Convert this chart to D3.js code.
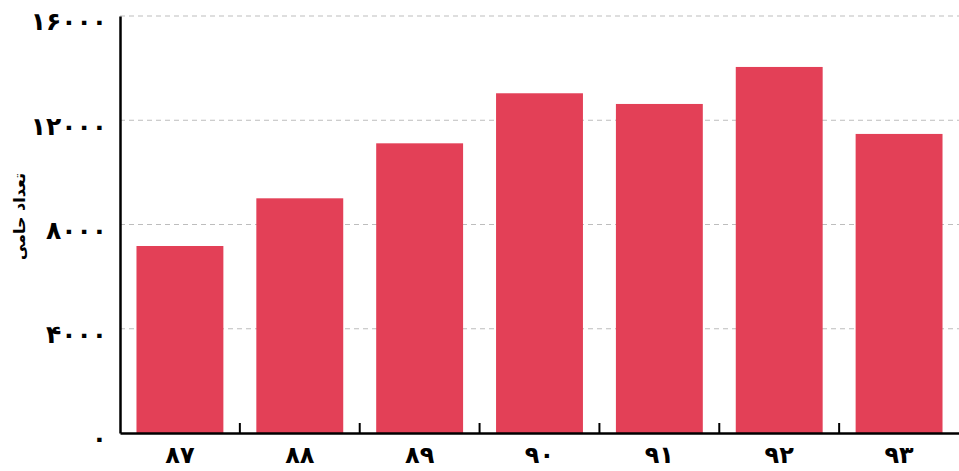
<!DOCTYPE html>
<meta charset="utf-8">
<script src="https://d3js.org/d3.v7.min.js"></script>
<style>
  body { margin: 0; background: #fff; overflow: hidden; }
  svg { display: block; }
  text { font-family: "DejaVu Sans", sans-serif; }
</style>
<body>
<div id="chart"></div>
</body>
<script>
// data
var years = ["۸۷", "۸۸", "۸۹", "۹۰", "۹۱", "۹۲", "۹۳"];
var supporters = [7175, 9005, 11115, 13035, 12625, 14045, 11475];
var yTicks = [0, 4000, 8000, 12000, 16000];
var yTickLabels = ["۰", "۴۰۰۰", "۸۰۰۰", "۱۲۰۰۰", "۱۶۰۰۰"];
var yTitle = "تعداد حامی";

var totalW = 959, totalH = 471;
var margin = { top: 16, right: 0, bottom: 38, left: 120 },
    width = totalW - margin.left - margin.right,
    height = totalH - margin.top - margin.bottom;

var svg = d3.select("#chart")
    .append("svg")
    .attr("width", totalW)
    .attr("height", totalH)
    .append("g")
    .attr("transform", "translate(" + margin.left + "," + margin.top + ")");

var x = d3.scaleBand()
    .domain(years)
    .range([0, width])
    .paddingInner(0.275)
    .paddingOuter(0.1375);

var y = d3.scaleLinear()
    .domain([0, 16000])
    .range([height, 0]);

// gridlines
svg.append("g")
    .selectAll("line")
    .data(yTicks.filter(function(d) { return d > 0; }))
    .enter()
    .append("line")
    .attr("x1", 0)
    .attr("x2", width)
    .attr("y1", function(d) { return y(d); })
    .attr("y2", function(d) { return y(d); })
    .attr("stroke", "#bdbdbd")
    .attr("stroke-width", 1)
    .attr("stroke-dasharray", "5,4");

// bars
svg.append("g")
    .selectAll("rect")
    .data(years)
    .enter()
    .append("rect")
    .attr("x", function(d) { return x(d); })
    .attr("width", x.bandwidth())
    .attr("y", function(d, i) { return y(supporters[i]); })
    .attr("height", function(d, i) { return height - y(supporters[i]); })
    .attr("fill", "#e34057");

// Y axis
var yAxis = svg.append("g")
    .call(d3.axisLeft(y).tickValues(yTicks).tickSize(0).tickPadding(13)
        .tickFormat(function(d, i) { return yTickLabels[i]; }));
yAxis.select(".domain").attr("stroke", "#000").attr("stroke-width", 2.5);
yAxis.selectAll("text")
    .attr("font-size", "25px")
    .attr("font-weight", "bold")
    .attr("letter-spacing", "-2.5px")
    .attr("fill", "#000")
    .attr("dy", "0.55em");

// X axis
var xAxis = svg.append("g")
    .attr("transform", "translate(0," + height + ")")
    .call(d3.axisBottom(x).tickSize(0));
xAxis.select(".domain").attr("stroke", "#000").attr("stroke-width", 2.5);
xAxis.selectAll("text")
    .attr("font-size", "24px")
    .attr("font-weight", "bold")
    .attr("fill", "#000")
    .attr("y", 12)
    .attr("dy", 0)
    .attr("dominant-baseline", "hanging");

// inward ticks between categories
var step = x.step();
xAxis.append("g")
    .selectAll("line")
    .data(years.slice(1))
    .enter()
    .append("line")
    .attr("x1", function(d) { return x(d) - step * x.paddingInner() / 2; })
    .attr("x2", function(d) { return x(d) - step * x.paddingInner() / 2; })
    .attr("y1", 0)
    .attr("y2", -10)
    .attr("stroke", "#000")
    .attr("stroke-width", 2);

// Y title
svg.append("text")
    .attr("transform", "translate(" + (-margin.left + 25) + "," + (height / 2 - 8) + ") rotate(-90)")
    .attr("text-anchor", "middle")
    .attr("font-size", "16px")
    .attr("font-weight", "bold")
    .attr("fill", "#000")
    .text(yTitle);
</script>
